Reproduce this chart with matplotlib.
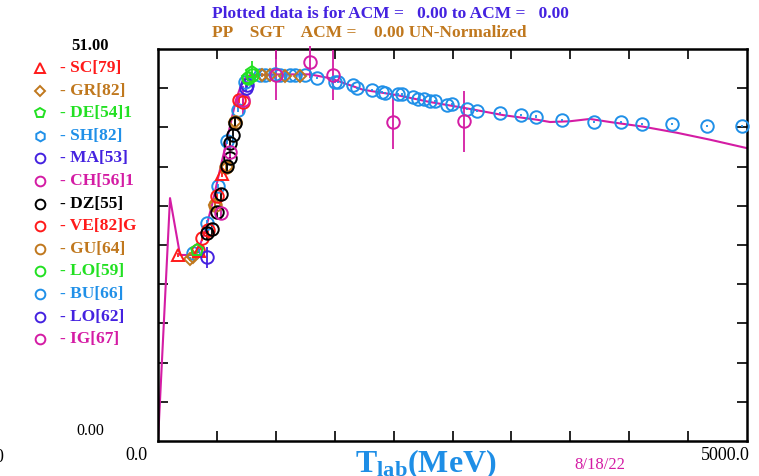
import matplotlib.pyplot as plt

plt.rcParams['font.family'] = ['Liberation Serif', 'DejaVu Serif']
plt.rcParams['mathtext.fontset'] = 'custom'
plt.rcParams['mathtext.bf'] = 'Liberation Serif:bold'
plt.rcParams['mathtext.rm'] = 'Liberation Serif:bold'

# fit curve (magenta)
curve_x = [0, 102, 187, 323, 399, 458, 526, 594, 662, 722, 781, 1036, 1290, 1460,
           1740, 2029, 2309, 2649, 2929, 3217, 3328, 3497, 3667, 3837, 4117, 4406, 4686, 5000]
curve_y = [0, 31.6, 24.2, 24.2, 27.2, 30.7, 35.3, 39.8, 44.4, 47.0, 47.6, 47.7, 47.7, 47.2,
           45.7, 45.0, 44.1, 43.2, 42.4, 41.8, 41.5, 41.6, 41.9, 41.5, 40.9, 40.1, 39.2, 38.1]

# data sets: T_lab (MeV), sigma (mb), error
sc_x = [170, 348, 543]
sc_y = [24.2, 24.7, 34.7]
sc_e = [0.3, 0.3, 0.3]

gr_x = [272, 297, 484, 586, 654, 883, 951, 1078, 1205]
gr_y = [23.7, 23.9, 30.7, 35.6, 41.5, 47.6, 47.6, 47.5, 47.5]
gr_e = [0.3, 0.3, 0.3, 0.3, 0.3, 0.3, 0.3, 0.3, 0.3]

de_x = [331, 764, 800]
de_y = [24.8, 47.2, 48.0]
de_e = [0.3, 0.3, 1.5]

sh_x = [866, 908, 993, 1036, 1121, 1163, 1248, 1350, 1503, 1528, 1655, 1689, 1817, 1902,
        1927, 2037, 2071, 2165, 2207, 2258, 2309, 2351, 2453, 2496, 2623, 2708, 2903, 3081,
        3209, 3430, 3701, 3930, 4109, 4363, 4660, 4957]
sh_y = [47.6, 47.6, 47.7, 47.6, 47.6, 47.6, 47.6, 47.2, 46.7, 46.7, 46.3, 45.9, 45.7, 45.4,
        45.3, 45.1, 45.1, 44.8, 44.5, 44.5, 44.2, 44.2, 43.7, 43.8, 43.2, 42.9, 42.7, 42.4,
        42.2, 41.8, 41.5, 41.5, 41.2, 41.2, 41.0, 41.0]

ma_x = [416]
ma_y = [23.9]
ma_e = [1.4]

ch_x = [535, 611, 722]
ch_y = [29.7, 37.6, 44.4]
ch_e = [1.0, 0.6, 1.8]

dz_x = [416, 458, 501, 535, 586, 611, 611, 637, 654]
dz_y = [27.1, 27.6, 29.8, 32.1, 35.8, 36.8, 38.8, 39.8, 41.4]
dz_e = [0.8, 0.8, 0.8, 0.8, 0.8, 0.8, 0.8, 0.8, 0.8]

ve_x = [340, 373, 424, 501, 688, 722]
ve_y = [24.8, 26.4, 27.5, 31.9, 44.4, 44.1]
ve_e = [0.4, 0.4, 0.4, 0.4, 0.4, 0.4]

gu_x = [484, 577, 654]
gu_y = [30.7, 35.6, 41.5]
gu_e = [0.6, 0.6, 0.6]

lo59_x = [764, 798]
lo59_y = [47.2, 47.6]
lo59_e = [0.4, 0.4]

bu_x = [297, 416, 509, 586, 679, 739]
bu_y = [24.5, 28.4, 33.2, 39.0, 43.1, 46.7]
bu_e = [0.3, 0.3, 0.3, 0.3, 0.3, 0.3]

lo62_x = [747, 756]
lo62_y = [45.9, 46.3]
lo62_e = [0.4, 0.4]

ig_x = [1002, 1290, 1486, 1995, 2598]
ig_y = [47.6, 49.3, 47.6, 41.5, 41.6]
ig_e = [3.3, 2.1, 3.3, 3.5, 4.0]

red = '#ff1a1a'
brown = '#c0781e'
green = '#22e022'
blue = '#2090e8'
violet = '#4422e0'
magenta = '#d41ca4'

legend_items = [
    ('SC[79]', '^', red), ('GR[82]', 'D', brown), ('DE[54]1', 'p', green),
    ('SH[82]', 'h', blue), ('MA[53]', 'o', violet), ('CH[56]1', 'o', magenta),
    ('DZ[55]', 'o', 'black'), ('VE[82]G', 'o', red), ('GU[64]', 'o', brown),
    ('LO[59]', 'o', green), ('BU[66]', 'o', blue), ('LO[62]', 'o', violet),
    ('IG[67]', 'o', magenta),
]

fig = plt.figure(figsize=(7.59, 4.76), dpi=100)
ax = fig.add_axes([158 / 759, 35 / 476, 589 / 759, 392 / 476])

ax.plot(curve_x, curve_y, color=magenta, lw=1.5, zorder=2)

sets = [
    (sh_x, sh_y, [0.15] * len(sh_x), 'o', blue, 9),
    (bu_x, bu_y, bu_e, 'o', blue, 9),
    (gr_x, gr_y, gr_e, 'D', brown, 6),
    (gu_x, gu_y, gu_e, 'o', brown, 9),
    (sc_x, sc_y, sc_e, '^', red, 8),
    (ve_x, ve_y, ve_e, 'o', red, 9),
    (dz_x, dz_y, dz_e, 'o', 'black', 9),
    (ch_x, ch_y, ch_e, 'o', magenta, 9),
    (ma_x, ma_y, ma_e, 'o', violet, 9),
    (lo62_x, lo62_y, lo62_e, 'o', violet, 9),
    (de_x, de_y, de_e, 'p', green, 9),
    (lo59_x, lo59_y, lo59_e, 'o', green, 9),
    (ig_x, ig_y, ig_e, 'o', magenta, 9),
]
for x, y, e, m, c, s in sets:
    ax.errorbar(x, y, yerr=e, fmt=m, ms=s, mfc='none', mec=c, mew=1.4,
                ecolor=c, elinewidth=1.3, capsize=0, zorder=3, clip_on=False)

ax.set_xlim(0, 5000)
ax.set_ylim(0, 51)
ax.set_xticks([500 * i for i in range(1, 10)])
ax.set_yticks([5.1 * i for i in range(1, 10)])
ax.tick_params(direction='in', length=7, width=1.2, top=True, right=True,
               labelbottom=False, labelleft=False)
for sp in ax.spines.values():
    sp.set_linewidth(1.8)

# axis end labels
fig.text(90 / 759, 1 - 46 / 476, '51.00', fontsize=12, fontweight='bold', ha='center', va='center')
fig.text(90 / 759, 1 - 431 / 476, '0.00', fontsize=11.5, ha='center', va='center')
fig.text(136 / 759, 1 - 455 / 476, '0.0', fontsize=13, ha='center', va='center')
fig.text(725 / 759, 1 - 456 / 476, '5000.0', fontsize=13, ha='center', va='center')
fig.text(-6 / 759, 1 - 457 / 476, '0', fontsize=13, ha='left', va='center')

# titles
fig.text(212 / 759, 1 - 14 / 476, 'Plotted data is for ACM =   0.00 to ACM =   0.00',
         fontsize=12.5, fontweight='bold', color=violet, ha='left', va='center')
fig.text(212 / 759, 1 - 33 / 476, 'PP    SGT    ACM =    0.00 UN-Normalized',
         fontsize=12.5, fontweight='bold', color=brown, ha='left', va='center')

# x label and date
fig.text(355 / 759, 4 / 476, r'$\mathbf{T_{lab}(MeV)}$', fontsize=23, color='#1e8ee6',
         ha='left', va='baseline')
fig.text(600 / 759, 1 - 465 / 476, '8/18/22', fontsize=12, color=magenta, ha='center', va='center')

# legend
for i, (name, m, c) in enumerate(legend_items):
    yy = 1 - (68 + 22.6 * i) / 476
    fig.lines.append(plt.Line2D([40 / 759], [yy], marker=m, ms=7 if m != 'D' else 5.5,
                                mfc='none', mec=c, mew=1.4, transform=fig.transFigure))
    fig.text(60 / 759, yy, '- ' + name, fontsize=12.5, fontweight='bold', color=c,
             ha='left', va='center')

fig.savefig('out.png', dpi=100)
